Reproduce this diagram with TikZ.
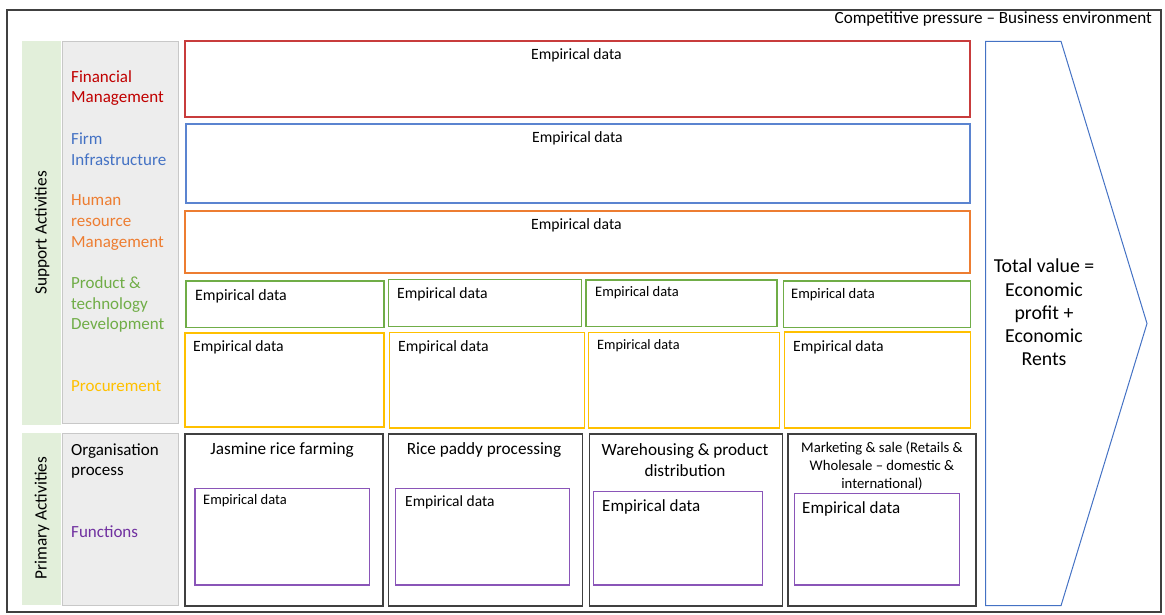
\documentclass[tikz,border=0pt]{standalone}
\usepackage{fontspec}
\setmainfont{Carlito}
\definecolor{cRed}{HTML}{C00000}
\definecolor{cRedline}{HTML}{C83C3C}
\definecolor{cBlue}{HTML}{4472C4}
\definecolor{cBlueline}{HTML}{5B84D0}
\definecolor{cOrange}{HTML}{ED7D31}
\definecolor{cGreen}{HTML}{70AD47}
\definecolor{cGold}{HTML}{FFC000}
\definecolor{cPurple}{HTML}{7030A0}
\definecolor{cPurpleline}{HTML}{8A55B8}
\definecolor{cDark}{HTML}{404040}
\definecolor{cLgreen}{HTML}{E2EFDA}
\definecolor{cLgray}{HTML}{EDEDED}
\definecolor{cGrayline}{HTML}{C8C8C8}
\newcommand\fsz[1]{\fontsize{#1}{#1}\selectfont}
\tikzset{
  cell/.style={draw=#1, line width=1.25pt, anchor=north west, inner sep=0pt, outer sep=0pt},
  colbox/.style={fill=#1, draw=none, anchor=north west, inner sep=0pt, outer sep=0pt},
  graybox/.style={fill=cLgray, draw=cGrayline, line width=1pt, anchor=north west, inner sep=0pt, outer sep=0pt},
  txt/.style={anchor=west, inner sep=0pt, font=\fsz{#1}},
  lbl/.style={anchor=west, inner sep=0pt, align=left, text=#1, font=\fontsize{17}{20.8}\selectfont},
}
\begin{document}
\begin{tikzpicture}[x=1pt,y=-1pt]
\useasboundingbox (0,0) rectangle (1165,614);
% outer frame
\draw[cDark, line width=1.6pt] (7,10) rectangle (1161,612);
\node[anchor=east, inner sep=0pt, font=\fsz{17.1}] (env) at (1152,18.5) {Competitive pressure -- Business environment};

% left columns
\node[colbox=cLgreen, minimum width=39pt, minimum height=384pt] (sgreen) at (22,41) {};
\node[colbox=cLgreen, minimum width=39pt, minimum height=172pt] (pgreen) at (22,433) {};
\node[graybox, minimum width=116pt, minimum height=382pt] (sgray) at (62,41) {};
\node[graybox, minimum width=116pt, minimum height=172pt] (pgray) at (62,433) {};
\node[rotate=90, inner sep=0pt, font=\fsz{17.3}] (sup) at (42,233) {Support Activities};
\node[rotate=90, inner sep=0pt, font=\fsz{17.3}] (pri) at (42,518) {Primary Activities};

% left labels
\node[lbl=cRed] (lfin) at (71,88) {Financial\\Management};
\node[lbl=cBlue] (lfirm) at (71,149) {Firm\\Infrastructure};
\node[lbl=cOrange] (lhr) at (71,222.5) {Human\\resource\\Management};
\node[lbl=cGreen] (lprod) at (71,304.5) {Product \&\\technology\\Development};
\node[lbl=cGold] (lproc) at (71,386) {Procurement};
\node[lbl=black] (lorg) at (71,461) {Organisation\\process};
\node[lbl=cPurple] (lfun) at (71,532) {Functions};

% support rows
\node[cell=cRedline, minimum width=785pt, minimum height=76pt] (fin) at (185,41) {};
\node[txt=15.7] (tfin) at (531,55.5) {Empirical data};
\node[cell=cBlueline, minimum width=784pt, minimum height=79pt] (firm) at (186,124) {};
\node[txt=15.7] (tfirm) at (532,138) {Empirical data};
\node[cell=cOrange, minimum width=785pt, minimum height=62pt] (hr) at (185,211) {};
\node[txt=15.7] (thr) at (531,225) {Empirical data};

% product & technology
\node[cell=cGreen, minimum width=198pt, minimum height=46.5pt] (p1) at (186,281) {};
\node[cell=cGreen, minimum width=193pt, minimum height=47pt] (p2) at (388.7,279.5) {};
\node[cell=cGreen, minimum width=191pt, minimum height=46.5pt] (p3) at (586,280) {};
\node[cell=cGreen, minimum width=187pt, minimum height=46.5pt] (p4) at (783.3,281) {};
\node[txt=15.9] (tp1) at (195,296) {Empirical data};
\node[txt=15.7] (tp2) at (397,294) {Empirical data};
\node[txt=14.5] (tp3) at (595,293) {Empirical data};
\node[txt=14.5] (tp4) at (791,295) {Empirical data};

% procurement
\node[cell=cGold, minimum width=199pt, minimum height=94pt] (q1) at (185,333) {};
\node[cell=cGold, minimum width=195pt, minimum height=95.5pt] (q2) at (389.3,332.5) {};
\node[cell=cGold, minimum width=191.5pt, minimum height=95.5pt] (q3) at (588.3,332.5) {};
\node[cell=cGold, minimum width=186.5pt, minimum height=96pt] (q4) at (784.3,332) {};
\node[txt=15.7] (tq1) at (193,347) {Empirical data};
\node[txt=15.7] (tq2) at (398,347) {Empirical data};
\node[txt=14.3] (tq3) at (597,346) {Empirical data};
\node[txt=15.7] (tq4) at (793,347) {Empirical data};

% primary activities
\node[cell=cDark, minimum width=198pt, minimum height=172pt] (a1) at (185,434) {};
\node[cell=cDark, minimum width=194pt, minimum height=172pt] (a2) at (388.3,434) {};
\node[cell=cDark, minimum width=193.5pt, minimum height=172pt] (a3) at (589.3,434) {};
\node[cell=cDark, minimum width=188pt, minimum height=172pt] (a4) at (788,434) {};
\node[inner sep=0pt, font=\fsz{17.2}] (ta1) at (282,450) {Jasmine rice farming};
\node[inner sep=0pt, font=\fsz{17.2}] (ta2) at (484,450) {Rice paddy processing};
\node[inner sep=0pt, align=center, font=\fontsize{17.2}{21}\selectfont] (ta3) at (685,460.5) {Warehousing \& product\\distribution};
\node[inner sep=0pt, align=center, font=\fontsize{14.7}{18}\selectfont] (ta4) at (882,466) {Marketing \& sale (Retails \&\\Wholesale -- domestic \&\\international)};

% functions
\node[cell=cPurpleline, minimum width=174.3pt, minimum height=96.7pt] (f1) at (195,488.3) {};
\node[cell=cPurpleline, minimum width=173.6pt, minimum height=96.7pt] (f2) at (395.7,488.3) {};
\node[cell=cPurpleline, minimum width=169.4pt, minimum height=93.7pt] (f3) at (593.3,491.3) {};
\node[cell=cPurpleline, minimum width=165pt, minimum height=91.7pt] (f4) at (794.3,493.3) {};
\node[txt=14.5] (tf1) at (203,501) {Empirical data};
\node[txt=15.5] (tf2) at (405,502) {Empirical data};
\node[txt=17] (tf3) at (602,507) {Empirical data};
\node[txt=17] (tf4) at (802,509) {Empirical data};

% chevron
\draw[cBlue, line width=1pt, line join=miter] (985.7,41.3) -- (1061,41.3) -- (1147,323.5) -- (1061,605.7) -- (985.7,605.7) -- cycle;
\node[inner sep=0pt, align=center, font=\fontsize{19.8}{23.3}\selectfont] (total) at (1044,312.5) {Total value =\\Economic\\profit +\\Economic\\Rents};
\end{tikzpicture}
\end{document}
